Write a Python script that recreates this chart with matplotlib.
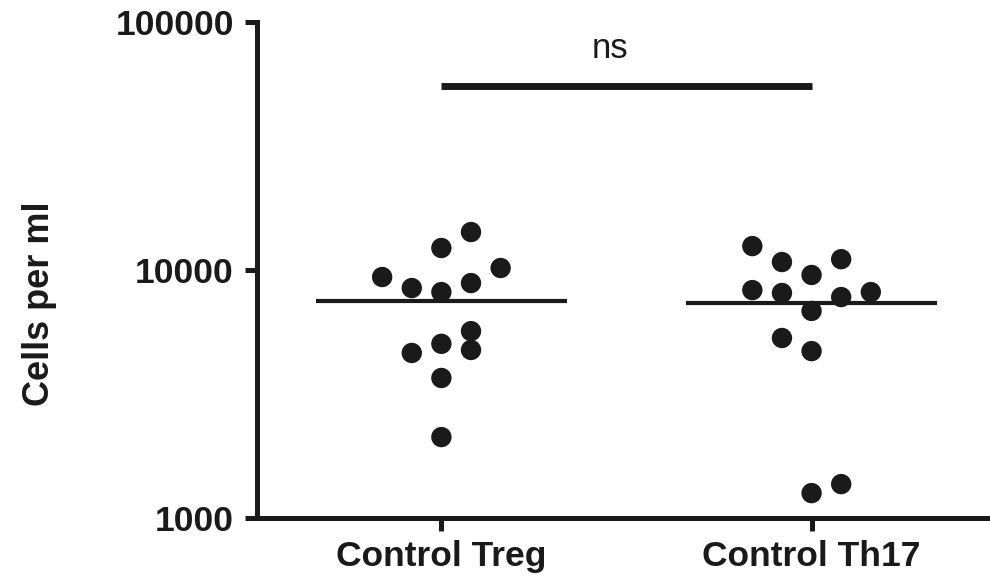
import matplotlib
matplotlib.use('Agg')
import matplotlib.pyplot as plt
import numpy as np
from matplotlib.ticker import FixedLocator, NullLocator, FixedFormatter

matplotlib.rc('font', family=['Liberation Sans', 'DejaVu Sans'])

groups = ['Control Treg', 'Control Th17']

treg = [9370, 8460, 12270, 8150, 14230, 8860, 10190, 4630, 5040, 5670, 4760, 3670, 2120]
th17 = [12490, 10770, 9550, 11060, 8300, 8080, 7780, 8150, 6840, 5320, 4710, 1260, 1370]

# column slot of each dot inside its group (scatter layout)
treg_slot = [-2, -1, 0, 0, 1, 1, 2, -1, 0, 1, 1, 0, 0]
th17_slot = [-2, -1, 0, 1, -2, -1, 1, 2, 0, -1, 0, 0, 1]

y_ticks = [1000, 10000, 100000]
y_ticklabels = ['1000', '10000', '100000']
sig_label = 'ns'

ink = '#1a1a1a'
step = 0.08
half = 0.34

fig = plt.figure(figsize=(9.9, 5.76), dpi=100)
ax = fig.add_axes([0.260, 0.1007, 0.740, 0.861])

for i, (vals, slots) in enumerate([(treg, treg_slot), (th17, th17_slot)]):
    xs = i + step * np.array(slots)
    ax.scatter(xs, vals, s=215, color=ink, edgecolors='none', zorder=3, clip_on=False)
    m = np.mean(vals)
    ax.plot([i - half, i + half], [m, m], color=ink, lw=3.0, solid_capstyle='butt', zorder=2)

# significance bar
ax.plot([0, 1], [55000, 55000], color=ink, lw=5, solid_capstyle='butt', clip_on=False)
ax.text(0.455, 78000, sig_label, ha='center', va='center', fontsize=25, color=ink)

ax.set_yscale('log')
ax.set_ylim(1000, 100000)
ax.set_xlim(-0.497, 1.482)
ax.yaxis.set_major_locator(FixedLocator(y_ticks))
ax.yaxis.set_major_formatter(FixedFormatter(y_ticklabels))
ax.yaxis.set_minor_locator(NullLocator())
ax.set_xticks([0, 1])
ax.set_xticklabels(groups, fontsize=25.5, fontweight='bold', color=ink)

for lab in ax.get_yticklabels():
    lab.set_fontsize(25.5)
    lab.set_fontweight('bold')
    lab.set_color(ink)

ax.spines['top'].set_visible(False)
ax.spines['right'].set_visible(False)
for sp in ['left', 'bottom']:
    ax.spines[sp].set_linewidth(3.6)
    ax.spines[sp].set_color(ink)
    ax.spines[sp].set_capstyle('projecting')

ax.tick_params(axis='both', which='major', length=9, width=3.6, color=ink)
ax.tick_params(axis='y', pad=8)
ax.tick_params(axis='x', pad=7)

ax.set_ylabel('Cells per ml', fontsize=26, fontweight='bold', color=ink)
ax.yaxis.set_label_coords(-0.274, 0.433)

fig.savefig('out.png', dpi=100)
